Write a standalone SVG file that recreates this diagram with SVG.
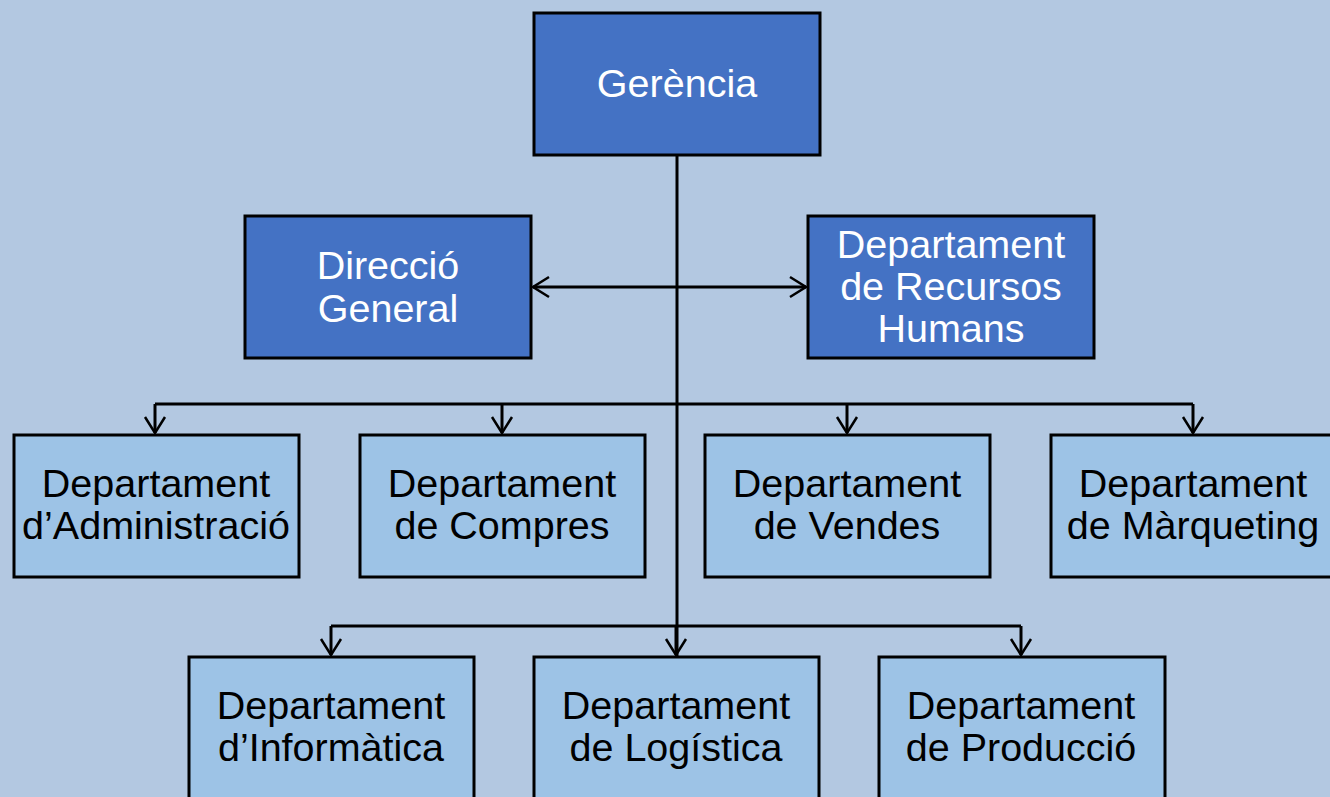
<svg xmlns="http://www.w3.org/2000/svg" width="1330" height="797" viewBox="0 0 1330 797">
  <style>
    .dark { fill: #4472C4; stroke: #000; stroke-width: 3; }
    .light { fill: #9DC3E6; stroke: #000; stroke-width: 3; }
    .tw { font-family: "Liberation Sans", Arial, sans-serif; font-size: 39.5px; fill: #FFFFFF; text-anchor: middle; }
    .tb { font-family: "Liberation Sans", Arial, sans-serif; font-size: 39.5px; fill: #000000; text-anchor: middle; }
    .conn { fill: none; stroke: #000; stroke-width: 3; }
  </style>
  <defs>
    <marker id="arr" viewBox="0 0 20 24" refX="18" refY="12" markerWidth="20" markerHeight="24" markerUnits="userSpaceOnUse" orient="auto-start-reverse">
      <path d="M2 2 L18 12 L2 22" fill="none" stroke="#000" stroke-width="2.5"/>
    </marker>
  </defs>
  <rect x="0" y="0" width="1330" height="797" fill="#B3C8E1"/>

  <g id="connectors">
    <line class="conn" x1="677" y1="156" x2="677" y2="656"/>
    <line class="conn" x1="533" y1="287" x2="806" y2="287" marker-start="url(#arr)" marker-end="url(#arr)"/>
    <line class="conn" x1="155" y1="404" x2="1193" y2="404"/>
    <line class="conn" x1="155" y1="404" x2="155" y2="433" marker-end="url(#arr)"/>
    <line class="conn" x1="502" y1="404" x2="502" y2="433" marker-end="url(#arr)"/>
    <line class="conn" x1="847" y1="404" x2="847" y2="433" marker-end="url(#arr)"/>
    <line class="conn" x1="1193" y1="404" x2="1193" y2="433" marker-end="url(#arr)"/>
    <line class="conn" x1="331" y1="626" x2="1021" y2="626"/>
    <line class="conn" x1="331" y1="626" x2="331" y2="655" marker-end="url(#arr)"/>
    <line class="conn" x1="676" y1="626" x2="676" y2="655" marker-end="url(#arr)"/>
    <line class="conn" x1="1021" y1="626" x2="1021" y2="655" marker-end="url(#arr)"/>
  </g>

  <g id="gerencia">
    <rect class="dark" x="534" y="13" width="286" height="142"/>
    <text class="tw" x="677" y="97">Gerència</text>
  </g>
  <g id="direccio-general">
    <rect class="dark" x="245" y="216" width="286" height="142"/>
    <text class="tw" x="388" y="279">Direcció</text>
    <text class="tw" x="388" y="322">General</text>
  </g>
  <g id="recursos-humans">
    <rect class="dark" x="808" y="216" width="286" height="142"/>
    <text class="tw" x="951" y="258">Departament</text>
    <text class="tw" x="951" y="300">de Recursos</text>
    <text class="tw" x="951" y="342">Humans</text>
  </g>

  <g id="administracio">
    <rect class="light" x="14" y="435" width="285" height="142"/>
    <text class="tb" x="156" y="497">Departament</text>
    <text class="tb" x="156" y="539">d’Administració</text>
  </g>
  <g id="compres">
    <rect class="light" x="360" y="435" width="285" height="142"/>
    <text class="tb" x="502" y="497">Departament</text>
    <text class="tb" x="502" y="539">de Compres</text>
  </g>
  <g id="vendes">
    <rect class="light" x="705" y="435" width="285" height="142"/>
    <text class="tb" x="847" y="497">Departament</text>
    <text class="tb" x="847" y="539">de Vendes</text>
  </g>
  <g id="marqueting">
    <rect class="light" x="1051" y="435" width="286" height="142"/>
    <text class="tb" x="1193" y="497">Departament</text>
    <text class="tb" x="1193" y="539">de Màrqueting</text>
  </g>

  <g id="informatica">
    <rect class="light" x="189" y="657" width="285" height="145"/>
    <text class="tb" x="331" y="719">Departament</text>
    <text class="tb" x="331" y="761">d’Informàtica</text>
  </g>
  <g id="logistica">
    <rect class="light" x="534" y="657" width="285" height="145"/>
    <text class="tb" x="676" y="719">Departament</text>
    <text class="tb" x="676" y="761">de Logística</text>
  </g>
  <g id="produccio">
    <rect class="light" x="879" y="657" width="286" height="145"/>
    <text class="tb" x="1021" y="719">Departament</text>
    <text class="tb" x="1021" y="761">de Producció</text>
  </g>
</svg>
